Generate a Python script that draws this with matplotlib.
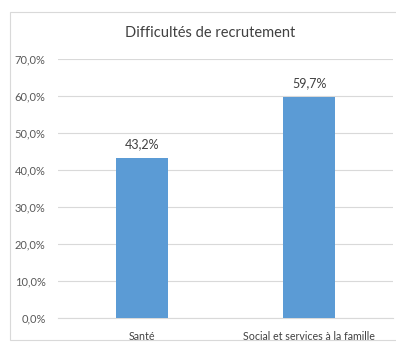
import matplotlib
matplotlib.use("Agg")
import matplotlib.pyplot as plt
from matplotlib.patches import Rectangle
from matplotlib.ticker import FuncFormatter

categories = ["Santé", "Social et services à la famille"]
values = [43.2, 59.7]
title = "Difficultés de recrutement"

plt.rcParams['font.family'] = ['Lato', 'DejaVu Sans']
W, H = 396, 342
fig = plt.figure(figsize=(W/100, H/100), dpi=100)
fig.add_artist(Rectangle((10/W, 1 - 340/H), (W - 9)/W, (340 - 12)/H, transform=fig.transFigure,
                         fill=False, edgecolor="#D9D9D9", linewidth=0.8))
ax = fig.add_axes([58/W, 1 - 318/H, (393 - 58)/W, (318 - 59)/H])
x = range(len(categories))
bars = ax.bar(x, values, width=0.31, color="#5B9BD5", zorder=3)
for b, v in zip(bars, values):
    ax.text(b.get_x() + b.get_width()/2, v + 2.2, f"{v:.1f}%".replace(".", ","),
            ha="center", va="bottom", fontsize=9, color="#404040")
ax.set_ylim(0, 70)
ax.set_xlim(-0.5, 1.5)
ax.set_yticks(range(0, 71, 10))
ax.yaxis.set_major_formatter(FuncFormatter(lambda v, p: f"{v:.1f}%".replace(".", ",")))
ax.set_xticks(list(x))
ax.set_xticklabels(categories)
ax.tick_params(axis="y", length=0, labelsize=8, colors="#595959", pad=9)
ax.tick_params(axis="x", length=0, labelsize=7.7, colors="#404040", pad=9)
ax.grid(axis="y", color="#D9D9D9", linewidth=0.8, zorder=0)
for s in ["top", "right", "left"]:
    ax.spines[s].set_visible(False)
ax.spines["bottom"].set_color("#D9D9D9")
fig.text((W/2 + 12)/W, 1 - 33/H, title, ha="center", va="center", fontsize=10.5, color="#404040")
fig.savefig("out.png", dpi=100)
